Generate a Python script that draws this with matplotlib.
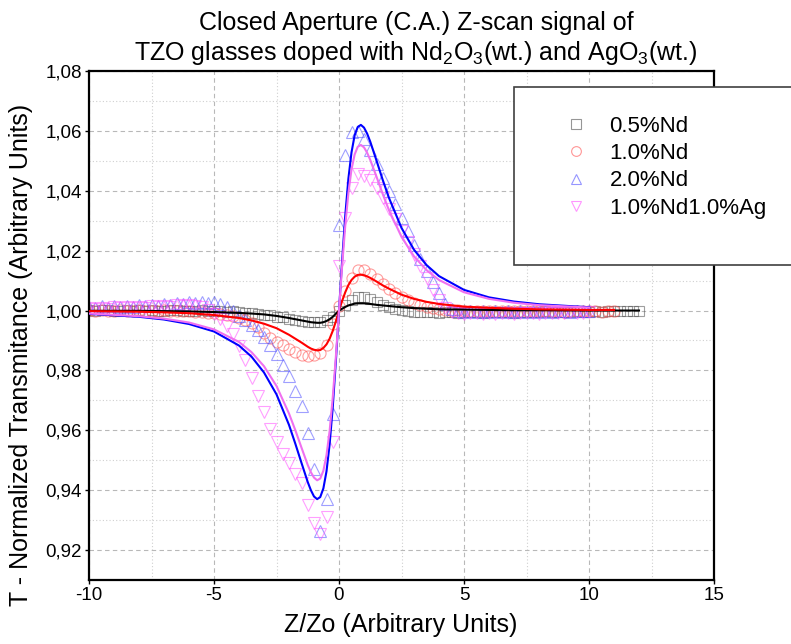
import numpy as np
import matplotlib.pyplot as plt
from matplotlib.patches import Rectangle
from matplotlib.ticker import MultipleLocator, FuncFormatter
from matplotlib.lines import Line2D

plt.rcParams['font.family'] = ['Liberation Sans', 'DejaVu Sans']
plt.rcParams['mathtext.fontset'] = 'custom'
plt.rcParams['mathtext.rm'] = 'Liberation Sans'
plt.rcParams['mathtext.it'] = 'Liberation Sans:italic'
plt.rcParams['axes.unicode_minus'] = False

# === Measured points (Z/Zo step 0.25, starting at -10) ===
step = 0.25
y_nd05 = [1.0002, 0.9999, 1.0001, 1.0003, 0.9998, 1.0000, 1.0002, 0.9999, 1.0001, 0.9998,
          1.0002, 1.0000, 0.9999, 1.0001, 1.0003, 0.9999, 1.0000, 0.9998, 1.0002, 1.0000,
          0.9997, 0.9999, 0.9996, 0.9998, 0.9994,
          0.9993, 0.9991, 0.9989, 0.9986, 0.9984, 0.9980, 0.9977, 0.9973, 0.9969, 0.9966,
          0.9963, 0.9962, 0.9963, 0.9968, 0.9980,
          0.9998, 1.0018, 1.0035, 1.0045, 1.0046, 1.0040, 1.0030, 1.0020, 1.0012, 1.0005,
          1.0001, 0.9998, 0.9996,
          0.9995, 0.9994, 0.9996, 0.9993, 0.9995, 0.9994, 0.9992, 0.9995, 0.9994, 0.9996,
          0.9993, 0.9995, 0.9994, 0.9996, 0.9995, 0.9993, 0.9995, 0.9996, 0.9994, 0.9995,
          0.9997, 0.9995, 0.9996, 0.9994, 0.9996, 0.9997, 0.9995, 0.9996, 0.9998, 0.9996,
          0.9997, 0.9998, 0.9997, 0.9998, 0.9999, 0.9998]

y_nd10 = [1.0001, 0.9999, 1.0002, 1.0000, 0.9998, 1.0001, 0.9999, 1.0000, 1.0002, 0.9998,
          1.0000, 0.9999, 1.0001, 0.9998, 0.9999, 0.9997, 0.9998, 0.9996, 0.9995, 0.9993,
          0.9991, 0.9988, 0.9985, 0.9981,
          0.9976, 0.9968, 0.9958, 0.9945, 0.9925, 0.9908, 0.9895, 0.9885, 0.9872, 0.9862,
          0.9853, 0.9848, 0.9850, 0.9858, 0.9885, 0.9955,
          1.0015, 1.0065, 1.0110, 1.0135, 1.0136, 1.0122, 1.0105, 1.0088, 1.0072, 1.0058,
          1.0045, 1.0034, 1.0025, 1.0018, 1.0012, 1.0008, 1.0005,
          1.0001, 0.9999, 1.0001, 0.9998, 0.9999, 1.0000, 0.9998, 0.9997, 0.9999, 0.9998,
          1.0000, 0.9997, 0.9998, 0.9999, 0.9997, 0.9998, 0.9999, 0.9997, 0.9998, 0.9996,
          0.9998, 0.9997, 0.9999, 0.9997, 0.9998, 0.9996, 0.9997, 0.9998]

y_nd20 = [1.0012, 1.0008, 1.0014, 1.0010, 1.0016, 1.0011, 1.0015, 1.0012, 1.0018, 1.0014,
          1.0020, 1.0016, 1.0022, 1.0019, 1.0025, 1.0021, 1.0028, 1.0024, 1.0030, 1.0026,
          1.0028, 1.0022, 1.0012, 0.9998, 0.9982, 0.9970, 0.9952, 0.9935, 0.9912, 0.9885,
          0.9855, 0.9818, 0.9780, 0.9732, 0.9680, 0.9592, 0.9470, 0.9265, 0.9370, 0.9655,
          1.0285, 1.0520, 1.0595, 1.0600, 1.0572, 1.0535, 1.0490, 1.0442, 1.0398, 1.0355,
          1.0310, 1.0265, 1.0218, 1.0172, 1.0132, 1.0094, 1.0058, 1.0022, 1.0005,
          0.9998, 0.9996, 0.9998, 0.9995, 0.9997, 0.9996, 0.9998, 0.9995, 0.9997, 0.9996,
          0.9998, 0.9996, 0.9997, 0.9995, 0.9998, 0.9996, 0.9997, 0.9998, 0.9996, 0.9998,
          0.9997, 0.9999]

y_nd10ag10 = [1.0008, 1.0004, 1.0010, 1.0006, 1.0011, 1.0007, 1.0012, 1.0009, 1.0013, 1.0010,
              1.0015, 1.0011, 1.0016, 1.0013, 1.0018, 1.0015, 1.0019, 1.0016,
              1.0012, 1.0002, 0.9990, 0.9972, 0.9950, 0.9920, 0.9880, 0.9835, 0.9775, 0.9715,
              0.9660, 0.9605, 0.9560, 0.9520, 0.9490, 0.9455, 0.9425, 0.9350, 0.9290, 0.9255,
              0.9310, 0.9560,
              1.0150, 1.0310, 1.0410, 1.0455, 1.0450, 1.0435, 1.0410, 1.0375, 1.0340, 1.0305,
              1.0265, 1.0230, 1.0190, 1.0150, 1.0110, 1.0070, 1.0035, 1.0010, 0.9995,
              0.9992, 0.9990, 0.9993, 0.9991, 0.9989, 0.9992, 0.9990, 0.9993, 0.9991, 0.9990,
              0.9992, 0.9991, 0.9993, 0.9990, 0.9992, 0.9991, 0.9993, 0.9992, 0.9994, 0.9992,
              0.9993, 0.9995]

# === Fitted curves ===
x_fit = [-10, -8, -7, -6, -5, -4, -3.5, -3, -2.5, -2, -1.75, -1.5, -1.25, -1.125, -1,
         -0.875, -0.75, -0.625, -0.5, -0.375, -0.25, -0.125, 0, 0.125, 0.25, 0.375, 0.5,
         0.625, 0.75, 0.875, 1, 1.125, 1.25, 1.5, 1.75, 2, 2.5, 3, 3.5, 4, 5, 6, 7, 8, 10]
fit_nd05 = [0.9999, 0.9999, 0.9998, 0.9997, 0.9995, 0.9992, 0.9990, 0.9987, 0.9982, 0.9975,
            0.9971, 0.9967, 0.9963, 0.9961, 0.9960, 0.9959, 0.9959, 0.9961, 0.9965, 0.9971,
            0.9979, 0.9989, 1.0000, 1.0006, 1.0012, 1.0017, 1.0020, 1.0023, 1.0024, 1.0024,
            1.0024, 1.0023, 1.0022, 1.0019, 1.0017, 1.0015, 1.0011, 1.0008, 1.0006, 1.0004,
            1.0003, 1.0002, 1.0001, 1.0001, 1.0000, 1.0000, 1.0000]
fit_nd10 = [0.9998, 0.9996, 0.9994, 0.9991, 0.9985, 0.9975, 0.9967, 0.9956, 0.9941, 0.9919,
            0.9906, 0.9893, 0.9879, 0.9873, 0.9869, 0.9867, 0.9868, 0.9875, 0.9887, 0.9906,
            0.9932, 0.9964, 1.0000, 1.0032, 1.0061, 1.0085, 1.0102, 1.0113, 1.0119, 1.0120,
            1.0118, 1.0114, 1.0109, 1.0097, 1.0084, 1.0073, 1.0053, 1.0039, 1.0029, 1.0022,
            1.0013, 1.0009, 1.0006, 1.0004, 1.0002, 1.0002]
fit_nd20 = [0.9989, 0.9979, 0.9970, 0.9955, 0.9930, 0.9883, 0.9846, 0.9793, 0.9720, 0.9618,
            0.9556, 0.9491, 0.9427, 0.9400, 0.9379, 0.9370, 0.9377, 0.9406, 0.9463, 0.9553,
            0.9677, 0.9831, 1.0000, 1.0167, 1.0317, 1.0440, 1.0528, 1.0585, 1.0613, 1.0620,
            1.0611, 1.0591, 1.0564, 1.0501, 1.0436, 1.0376, 1.0276, 1.0203, 1.0152, 1.0115,
            1.0069, 1.0044, 1.0030, 1.0021, 1.0011]
fit_nd10ag10 = [0.9990, 0.9981, 0.9973, 0.9960, 0.9937, 0.9895, 0.9861, 0.9814, 0.9748, 0.9656,
                0.9601, 0.9542, 0.9484, 0.9460, 0.9442, 0.9433, 0.9439, 0.9465, 0.9517, 0.9598,
                0.9710, 0.9847, 1.0000, 1.0149, 1.0283, 1.0392, 1.0471, 1.0521, 1.0547, 1.0553,
                1.0545, 1.0527, 1.0503, 1.0447, 1.0389, 1.0335, 1.0246, 1.0181, 1.0135, 1.0102,
                1.0061, 1.0039, 1.0026, 1.0018, 1.0010]
x_fit_nd10 = x_fit + [11]
x_fit_nd05 = x_fit + [11, 12]

labels = ["0.5%Nd", "1.0%Nd", "2.0%Nd", "1.0%Nd1.0%Ag"]
series = [y_nd05, y_nd10, y_nd20, y_nd10ag10]
fits = [(x_fit_nd05, fit_nd05), (x_fit_nd10, fit_nd10), (x_fit, fit_nd20), (x_fit, fit_nd10ag10)]
markers = ['s', 'o', '^', 'v']
msizes = [7, 8, 8.5, 8.5]
mk_colors = ['#505050', '#ff5050', '#5050ff', '#ff50ff']
ln_colors = ['#000000', '#ff0000', '#0000ff', '#f070f0']

# === Figure ===
fig = plt.figure(figsize=(7.91, 6.44), dpi=100)
ax = fig.add_axes([89/791, 1-580/644, 625/791, 509/644])

for ys, m, ms, c in zip(series, markers, msizes, mk_colors):
    xs = -10 + step*np.arange(len(ys))
    ax.plot(xs, ys, ls='none', marker=m, mfc='none', mec=c, ms=ms, mew=0.8,
            alpha=0.55, zorder=2)

for (xf, yf), c in zip(fits, ln_colors):
    ax.plot(xf, yf, color=c, lw=1.5, zorder=3)

ax.set_xlim(-10, 15)
ax.set_ylim(0.91, 1.08)
ax.xaxis.set_major_locator(MultipleLocator(5))
ax.xaxis.set_minor_locator(MultipleLocator(2.5))
ax.yaxis.set_major_locator(MultipleLocator(0.02))
ax.yaxis.set_minor_locator(MultipleLocator(0.01))
ax.yaxis.set_major_formatter(FuncFormatter(lambda v, p: f"{v:.2f}".replace('.', ',')))
ax.grid(which='major', color='#b8b8b8', ls=(0, (4, 3)), lw=0.8)
ax.grid(which='minor', color='#d0d0d0', ls=(0, (1, 2)), lw=0.8)
ax.set_axisbelow(True)
ax.tick_params(which='major', direction='out', length=3, width=1, labelsize=13.5, pad=2)
ax.tick_params(which='minor', length=0)
for s in ax.spines.values():
    s.set_linewidth(1.6)

fig.text(416/791, 1-30/644, "Closed Aperture (C.A.) Z-scan signal of",
         ha='center', va='baseline', fontsize=18)
fig.text(416/791, 1-60/644,
         r"TZO glasses doped with Nd$_\mathrm{2}$O$_\mathrm{3}$(wt.) and AgO$_\mathrm{3}$(wt.)",
         ha='center', va='baseline', fontsize=18)
fig.text(401/791, 1-632/644, "Z/Zo (Arbitrary Units)", ha='center', va='baseline', fontsize=18)
fig.text(21/791, 1-355/644, "T - Normalized Transmitance (Arbitrary Units)",
         rotation=90, ha='center', va='center', fontsize=18)

# legend box sticks out past the right edge
fig.patches.append(Rectangle((514/791, 1-265/644), 0.4, 178/644, transform=fig.transFigure,
                             facecolor='white', edgecolor='#404040', lw=1.2, zorder=4))
handles = [Line2D([], [], ls='none', marker=m, mfc='none', mec=c, ms=7, mew=0.8, alpha=0.6)
           for m, c in zip(markers, mk_colors)]
fig.legend(handles, labels, loc='upper left', bbox_to_anchor=(565/791, 1-116/644),
           frameon=False, fontsize=16, handlelength=1.0, handletextpad=1.0,
           labelspacing=0.28, borderpad=0, borderaxespad=0).set_zorder(5)

plt.savefig("out.png", dpi=100)
